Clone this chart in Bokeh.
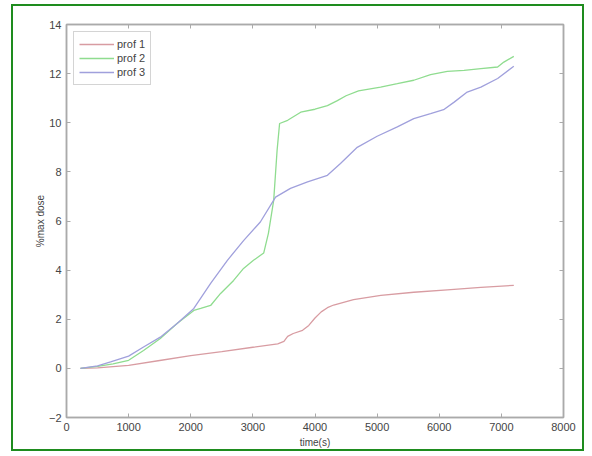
from bokeh.plotting import figure
from bokeh.models import LinearAxis, Range1d, FixedTicker, Legend, LegendItem
from bokeh.embed import file_html
from bokeh.resources import INLINE

t1 = [225, 500, 1000, 1500, 2000, 2500, 3000, 3400, 3500, 3560, 3650, 3800, 3900, 4000, 4100, 4200, 4300, 4620, 5060, 5590, 6130, 6670, 7200]
p1 = [0, 0.02, 0.12, 0.32, 0.52, 0.68, 0.86, 1.0, 1.1, 1.3, 1.42, 1.55, 1.75, 2.05, 2.3, 2.47, 2.58, 2.8, 2.97, 3.1, 3.2, 3.3, 3.38]

t2 = [225, 500, 750, 1000, 1240, 1510, 1780, 2050, 2160, 2320, 2480, 2690, 2850, 3010, 3175, 3250, 3335, 3390, 3430, 3560, 3770, 4000, 4200, 4360, 4500, 4700, 5056, 5325, 5590, 5860, 6130, 6400, 6670, 6940, 7040, 7200]
p2 = [0, 0.08, 0.18, 0.33, 0.73, 1.22, 1.83, 2.36, 2.44, 2.56, 3.05, 3.58, 4.07, 4.4, 4.7, 5.5, 6.84, 8.88, 9.97, 10.1, 10.43, 10.55, 10.7, 10.9, 11.1, 11.3, 11.45, 11.59, 11.73, 11.96, 12.09, 12.13, 12.2, 12.27, 12.47, 12.7]

t3 = [225, 500, 710, 1000, 1240, 1510, 1780, 2050, 2320, 2590, 2850, 3120, 3365, 3605, 3880, 4200, 4410, 4680, 5000, 5325, 5590, 5860, 6070, 6240, 6450, 6670, 6940, 7200]
p3 = [0, 0.1, 0.26, 0.5, 0.87, 1.27, 1.83, 2.44, 3.46, 4.4, 5.2, 5.96, 6.97, 7.33, 7.59, 7.86, 8.34, 9.0, 9.45, 9.83, 10.17, 10.37, 10.53, 10.84, 11.25, 11.45, 11.8, 12.3]

labels = ["prof 1", "prof 2", "prof 3"]
colors = ["#d89ca2", "#8fdc8f", "#a0a0dc"]
x_ticks = [0, 1000, 2000, 3000, 4000, 5000, 6000, 7000, 8000]
y_ticks = [-2, 0, 2, 4, 6, 8, 10, 12, 14]

FONT = "Liberation Sans"
AX = "#aaaaaa"
TXT = "#444444"

p = figure(width=573, height=447, output_backend="svg", toolbar_location=None,
           x_range=Range1d(0, 8000), y_range=Range1d(-2, 14),
           min_border_left=53, min_border_right=23, min_border_top=18, min_border_bottom=36)
p.styles = {"border": "2px solid #1e8c1e", "margin-left": "11px", "margin-top": "4px"}
p.xgrid.visible = False
p.ygrid.visible = False
p.outline_line_color = AX
p.outline_line_width = 1.5

top = LinearAxis()
right = LinearAxis()
p.add_layout(top, "above")
p.add_layout(right, "right")

def style(ax, ticks, show_labels=True):
    ax.ticker = FixedTicker(ticks=ticks)
    ax.major_tick_in = 4
    ax.major_tick_out = 0
    ax.minor_tick_line_color = None
    ax.axis_line_color = AX
    ax.axis_line_width = 1.5
    ax.major_tick_line_color = AX
    ax.major_label_text_font = FONT
    ax.major_label_text_font_size = "11px"
    ax.major_label_text_color = TXT
    ax.axis_label_text_font = FONT
    ax.axis_label_text_font_size = "10px"
    ax.axis_label_text_color = TXT
    ax.axis_label_text_font_style = "normal"
    if not show_labels:
        ax.major_label_text_font_size = "0px"
        ax.major_label_text_color = None
        ax.major_label_standoff = 0

xa = p.below[0]
ya = p.left[0]
style(xa, x_ticks)
style(ya, y_ticks)
style(top, x_ticks, False)
style(right, y_ticks, False)
xa.axis_label = "time(s)"
ya.axis_label = "%max dose"
xa.major_label_standoff = 5
xa.axis_label_standoff = 3
ya.major_label_standoff = 5
ya.axis_label_standoff = 0

items = []
for t, v, c, lab in zip([t1, t2, t3], [p1, p2, p3], colors, labels):
    r = p.line(t, v, line_color=c, line_width=1.3)
    items.append(LegendItem(label=lab, renderers=[r]))

legend = Legend(items=items, location="top_left")
legend.margin = 7
legend.padding = 5
legend.spacing = 0
legend.glyph_width = 35
legend.glyph_height = 14
legend.label_height = 14
legend.label_standoff = 3
legend.label_text_font = FONT
legend.label_text_font_size = "11px"
legend.label_text_color = TXT
legend.border_line_color = AX
legend.border_line_width = 1.2
legend.background_fill_color = "white"
p.add_layout(legend, "center")

open("out.html", "w").write(file_html(p, INLINE))
